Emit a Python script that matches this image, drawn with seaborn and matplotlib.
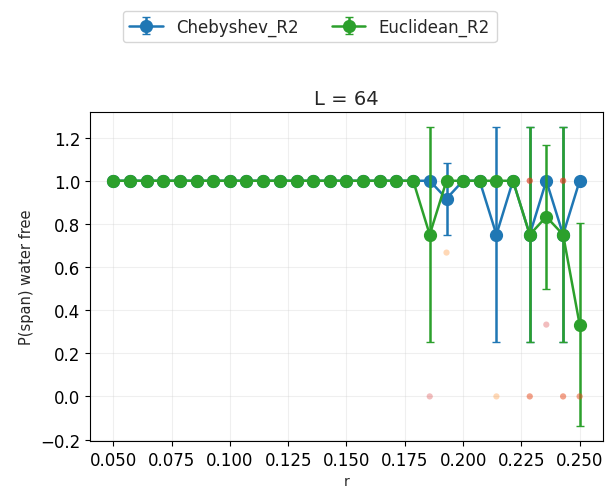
import numpy as np
import pandas as pd
import matplotlib
matplotlib.use('Agg')
import matplotlib.pyplot as plt
import seaborn as sns

# r 取值
r_values = [0.0500, 0.0571, 0.0643, 0.0714, 0.0786, 0.0857, 0.0929, 0.1000,
            0.1071, 0.1143, 0.1214, 0.1286, 0.1357, 0.1429, 0.1500, 0.1571,
            0.1643, 0.1714, 0.1786, 0.1857, 0.1929, 0.2000, 0.2071, 0.2143,
            0.2214, 0.2286, 0.2357, 0.2429, 0.2500]

cheb_mean = [1.0] * 19 + [1.0, 0.917, 1.0, 1.0, 0.75, 1.0, 0.75, 1.0, 0.75, 1.0]
cheb_err = [0.0] * 19 + [0.0, 0.167, 0.0, 0.0, 0.5, 0.0, 0.5, 0.0, 0.5, 0.0]

eucl_mean = [1.0] * 19 + [0.75, 1.0, 1.0, 1.0, 1.0, 1.0, 0.75, 0.833, 0.75, 0.333]
eucl_err = [0.0] * 19 + [0.5, 0.0, 0.0, 0.0, 0.0, 0.0, 0.5, 0.333, 0.5, 0.471]

# 单次样本 (淡色点)
orange_r = [0.1929, 0.2143, 0.2286, 0.2429, 0.2500, 0.2286, 0.2429]
orange_p = [0.667, 0.0, 0.0, 0.0, 0.0, 1.0, 1.0]
red_r = [0.1857, 0.2357, 0.2286, 0.2429, 0.2500, 0.2286, 0.2429, 0.2286, 0.2429]
red_p = [0.0, 0.333, 0.0, 0.0, 0.0, 1.0, 1.0, 1.0, 1.0]

sns.set_style('ticks')
plt.rcParams['font.family'] = ['DejaVu Sans']

fig = plt.figure(figsize=(6.06, 4.89), dpi=100)
ax = fig.add_axes([0.1485, 0.096, 0.8465, 0.673])

h1 = ax.errorbar(r_values, cheb_mean, yerr=cheb_err, color='tab:blue', marker='o',
                 markersize=8.5, linewidth=1.8, capsize=3, label='Chebyshev_R2', zorder=2)
h2 = ax.errorbar(r_values, eucl_mean, yerr=eucl_err, color='tab:green', marker='o',
                 markersize=8.5, linewidth=1.8, capsize=3, label='Euclidean_R2', zorder=3)

df_o = pd.DataFrame({'r': orange_r, 'p': orange_p})
df_r = pd.DataFrame({'r': red_r, 'p': red_p})
sns.scatterplot(data=df_o, x='r', y='p', color='tab:orange', alpha=0.3, s=20,
                edgecolor='none', ax=ax, zorder=4, legend=False)
sns.scatterplot(data=df_r, x='r', y='p', color='tab:red', alpha=0.3, s=20,
                edgecolor='none', ax=ax, zorder=4, legend=False)

ax.set_xlim(0.04, 0.26)
ax.set_ylim(-0.207, 1.319)
ax.set_xticks([0.05, 0.075, 0.1, 0.125, 0.15, 0.175, 0.2, 0.225, 0.25])
ax.set_yticks([-0.2, 0.0, 0.2, 0.4, 0.6, 0.8, 1.0, 1.2])
ax.grid(True, alpha=0.3)
ax.set_title('L = 64', fontsize=14)
ax.set_xlabel('r', fontsize=10)
ax.set_ylabel('P(span) water free', fontsize=10.5)
for s in ax.spines.values():
    s.set_color('black')
ax.tick_params(colors='black', labelsize=12)

fig.legend(handles=[h1, h2], labels=['Chebyshev_R2', 'Euclidean_R2'],
           loc='upper center', bbox_to_anchor=(0.511, 0.976), borderaxespad=0,
           ncol=2, fontsize=12)

fig.savefig('out.png', dpi=100)
